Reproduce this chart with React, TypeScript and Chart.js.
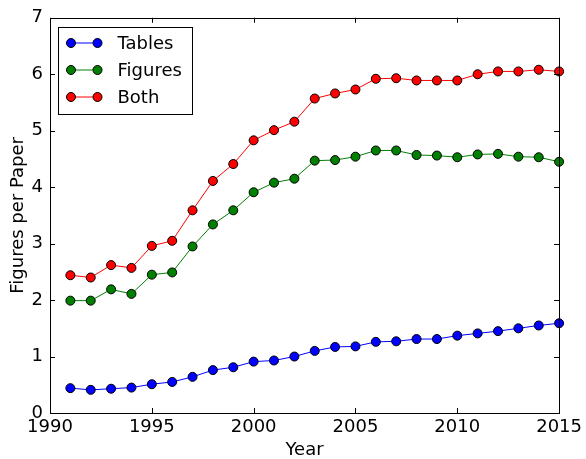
import { useEffect, useRef } from "react";
import { Chart, registerables } from "chart.js";

Chart.register(...registerables);

const years = [1991, 1992, 1993, 1994, 1995, 1996, 1997, 1998, 1999, 2000, 2001, 2002, 2003, 2004, 2005, 2006, 2007, 2008, 2009, 2010, 2011, 2012, 2013, 2014, 2015];
const tables = [0.44, 0.41, 0.43, 0.45, 0.51, 0.55, 0.64, 0.76, 0.81, 0.91, 0.93, 1.0, 1.1, 1.17, 1.18, 1.26, 1.27, 1.31, 1.31, 1.37, 1.41, 1.45, 1.5, 1.55, 1.59];
const figures = [1.99, 1.99, 2.19, 2.11, 2.45, 2.49, 2.95, 3.34, 3.59, 3.91, 4.08, 4.15, 4.47, 4.48, 4.54, 4.65, 4.65, 4.57, 4.56, 4.53, 4.58, 4.59, 4.54, 4.53, 4.45];
const both = [2.44, 2.4, 2.62, 2.57, 2.96, 3.05, 3.59, 4.11, 4.41, 4.83, 5.01, 5.16, 5.57, 5.66, 5.73, 5.92, 5.93, 5.89, 5.89, 5.89, 6.0, 6.05, 6.05, 6.08, 6.05];
const xTicks = [1990, 1995, 2000, 2005, 2010, 2015];
const yTicks = [0, 1, 2, 3, 4, 5, 6, 7];

const FONT = "'DejaVu Sans', sans-serif";

const frameAndTicks = {
  id: "frameAndTicks",
  afterDatasetsDraw(chart: any) {
    const { ctx, chartArea } = chart;
    const { left, right, top, bottom } = chartArea;
    const xs = chart.scales.x;
    const ys = chart.scales.y;
    ctx.save();
    ctx.strokeStyle = "#000";
    ctx.lineWidth = 1;
    ctx.beginPath();
    const tl = 5;
    xTicks.forEach((v) => {
      const px = Math.round(xs.getPixelForValue(v)) + 0.5;
      ctx.moveTo(px, bottom);
      ctx.lineTo(px, bottom - tl);
      ctx.moveTo(px, top);
      ctx.lineTo(px, top + tl);
    });
    yTicks.forEach((v) => {
      const py = Math.round(ys.getPixelForValue(v)) + 0.5;
      ctx.moveTo(left, py);
      ctx.lineTo(left + tl, py);
      ctx.moveTo(right, py);
      ctx.lineTo(right - tl, py);
    });
    ctx.stroke();
    ctx.strokeRect(Math.round(left) + 0.5, Math.round(top) + 0.5, Math.round(right - left), Math.round(bottom - top));

    // legend
    const bx = Math.round(left) + 8.5;
    const by = Math.round(top) + 9.5;
    const bw = 134;
    const bh = 87;
    ctx.fillStyle = "#fff";
    ctx.fillRect(bx, by, bw, bh);
    ctx.strokeRect(bx, by, bw, bh);
    ctx.font = `18px ${FONT}`;
    ctx.textBaseline = "middle";
    ctx.textAlign = "left";
    chart.data.datasets.forEach((ds: any, i: number) => {
      const ry = by + 15.5 + i * 27;
      const x1 = bx + 12.5;
      const x2 = bx + 39;
      ctx.strokeStyle = ds.borderColor;
      ctx.lineWidth = 1;
      ctx.beginPath();
      ctx.moveTo(x1, ry);
      ctx.lineTo(x2, ry);
      ctx.stroke();
      [x1, x2].forEach((mx) => {
        ctx.beginPath();
        ctx.arc(mx, ry, 4.5, 0, Math.PI * 2);
        ctx.fillStyle = ds.pointBackgroundColor;
        ctx.fill();
        ctx.strokeStyle = "#000";
        ctx.stroke();
      });
      ctx.fillStyle = "#000";
      ctx.fillText(ds.label, bx + 59, ry + 1);
    });
    ctx.restore();
  },
};

export default function App() {
  const ref = useRef<HTMLCanvasElement>(null);
  useEffect(() => {
    document.body.style.margin = "0";
    Chart.defaults.color = "#000";
    Chart.defaults.font.family = FONT;
    Chart.defaults.font.size = 18;
    const mk = (label: string, vals: number[], color: string) => ({
      label,
      data: years.map((y, i) => ({ x: y, y: vals[i] })),
      borderColor: color,
      backgroundColor: color,
      pointBackgroundColor: color,
      pointBorderColor: "#000",
      pointBorderWidth: 1,
      pointRadius: 4.5,
      borderWidth: 1,
      clip: false as any,
    });
    const chart = new Chart(ref.current!, {
      type: "line",
      data: {
        datasets: [
          mk("Tables", tables, "#0000ff"),
          mk("Figures", figures, "#008000"),
          mk("Both", both, "#ff0000"),
        ],
      },
      options: {
        animation: false,
        responsive: false,
        layout: { padding: { top: 17, right: 25, left: 0, bottom: 0 } },
        plugins: { legend: { display: false }, tooltip: { enabled: false } },
        scales: {
          x: {
            type: "linear",
            min: 1990,
            max: 2015,
            afterBuildTicks: (s: any) => {
              s.ticks = xTicks.map((v) => ({ value: v }));
            },
            afterFit: (s: any) => {
              s.height = 46;
            },
            grid: { display: false, drawTicks: false, tickLength: 0 },
            border: { display: false },
            ticks: { padding: 4, font: { size: 18 }, maxRotation: 0, autoSkip: false, callback: (v: any) => String(v) },
            title: { display: true, text: "Year", font: { size: 18 }, padding: { top: 0, bottom: -2 } },
          },
          y: {
            type: "linear",
            min: 0,
            max: 7,
            afterBuildTicks: (s: any) => {
              s.ticks = yTicks.map((v) => ({ value: v }));
            },
            afterFit: (s: any) => {
              s.width = 50;
            },
            grid: { display: false, drawTicks: false, tickLength: 0 },
            border: { display: false },
            ticks: { padding: 7, font: { size: 18 }, autoSkip: false, callback: (v: any) => String(v) },
            title: { display: true, text: "Figures per Paper", font: { size: 18 }, padding: { top: 8, bottom: 0 } },
          },
        },
      },
      plugins: [frameAndTicks],
    });
    return () => chart.destroy();
  }, []);
  return (
    <div style={{ width: 586, height: 459 }}>
      <canvas ref={ref} width={586} height={459} style={{ display: "block" }} />
    </div>
  );
}
